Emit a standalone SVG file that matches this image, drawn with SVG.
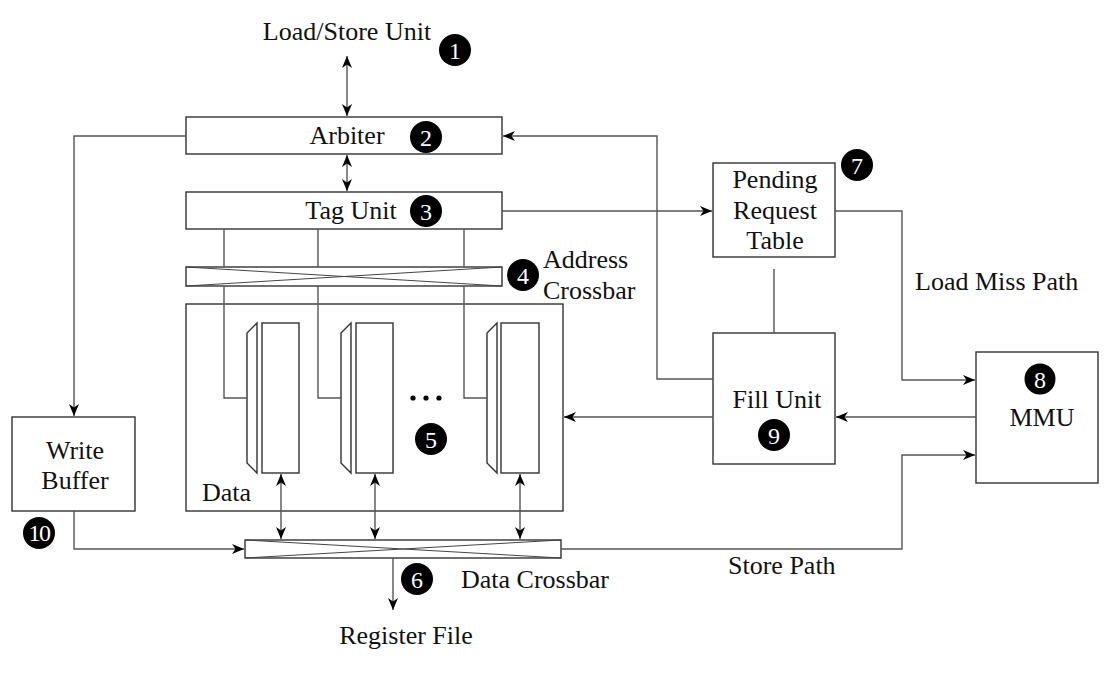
<svg xmlns="http://www.w3.org/2000/svg" width="1113" height="675" viewBox="0 0 1113 675">
<style>
.box{fill:#fff;stroke:#333;stroke-width:1.4}
.frame{fill:none;stroke:#333;stroke-width:1.4}
.ln{fill:none;stroke:#555;stroke-width:1.4}
.thin{fill:none;stroke:#444;stroke-width:1}
.t{font-family:"Liberation Serif","DejaVu Serif",serif;font-size:26px;fill:#111}
.bd{fill:#000}
.bn{font-family:"Liberation Serif","DejaVu Serif",serif;font-size:24px;fill:#fff;text-anchor:middle}
</style>
<defs>
<marker id="ah" viewBox="-13 -6 14 12" refX="0" refY="0" markerWidth="14" markerHeight="12" markerUnits="userSpaceOnUse" orient="auto-start-reverse">
<path d="M0,0 L-12,-5 L-8.5,0 L-12,5 Z" fill="#000"/>
</marker>
</defs>

<g id="loadstore">
<text class="t" x="347" y="40" text-anchor="middle">Load/Store Unit</text>
<circle class="bd" cx="455" cy="50" r="16"/><text class="bn" x="455" y="58.5">1</text>
</g>

<g id="arbiter">
<rect class="box" x="186" y="117" width="316" height="37"/>
<text class="t" x="347" y="144" text-anchor="middle">Arbiter</text>
<circle class="bd" cx="426" cy="137" r="16"/><text class="bn" x="426" y="145.5">2</text>
</g>

<g id="tagunit">
<rect class="box" x="186" y="192" width="316" height="37"/>
<text class="t" x="351" y="219" text-anchor="middle">Tag Unit</text>
<circle class="bd" cx="426" cy="211" r="16"/><text class="bn" x="426" y="219.5">3</text>
</g>

<g id="addrxbar">
<rect class="box" x="186" y="267" width="316" height="19"/>
<path class="thin" d="M186,267 L502,286 M186,286 L502,267"/>
<circle class="bd" cx="523" cy="275" r="16"/><text class="bn" x="523" y="283.5">4</text>
<text class="t" x="543" y="268">Address</text>
<text class="t" x="543" y="299">Crossbar</text>
</g>

<g id="data">
<rect class="frame" x="186" y="304" width="377" height="207"/>
<polygon class="box" points="257,323 247,333 247,463 257,473"/>
<rect class="box" x="262" y="323" width="37" height="150"/>
<polygon class="box" points="351,323 341,333 341,463 351,473"/>
<rect class="box" x="356" y="323" width="37" height="150"/>
<polygon class="box" points="497,323 487,333 487,463 497,473"/>
<rect class="box" x="501" y="323" width="38" height="150"/>
<circle cx="413" cy="398" r="2.6" fill="#000"/>
<circle cx="426" cy="398" r="2.6" fill="#000"/>
<circle cx="439" cy="398" r="2.6" fill="#000"/>
<circle class="bd" cx="431" cy="439" r="16"/><text class="bn" x="431" y="447.5">5</text>
<text class="t" x="202" y="501">Data</text>
</g>

<g id="writebuffer">
<rect class="box" x="12" y="417" width="123" height="94"/>
<text class="t" x="75" y="459" text-anchor="middle">Write</text>
<text class="t" x="75" y="489" text-anchor="middle">Buffer</text>
<circle class="bd" cx="39" cy="533" r="16"/><text class="bn" x="39" y="541" font-size="21" letter-spacing="-1.5">10</text>
</g>

<g id="dataxbar">
<rect class="box" x="245" y="540" width="316" height="18"/>
<path class="thin" d="M245,540 L561,558 M245,558 L561,540"/>
<circle class="bd" cx="417" cy="579" r="16"/><text class="bn" x="417" y="587.5">6</text>
<text class="t" x="461" y="588">Data Crossbar</text>
<text class="t" x="406" y="644" text-anchor="middle">Register File</text>
<text class="t" x="728" y="574">Store Path</text>
</g>

<g id="prt">
<rect class="box" x="713" y="163" width="122" height="94"/>
<text class="t" x="775" y="188" text-anchor="middle">Pending</text>
<text class="t" x="775" y="219" text-anchor="middle">Request</text>
<text class="t" x="775" y="249" text-anchor="middle">Table</text>
<circle class="bd" cx="857" cy="165" r="16"/><text class="bn" x="857" y="173.5">7</text>
<text class="t" x="915" y="290">Load Miss Path</text>
</g>

<g id="fillunit">
<rect class="box" x="713" y="333" width="122" height="131"/>
<text class="t" x="777" y="408" text-anchor="middle">Fill Unit</text>
<circle class="bd" cx="774" cy="435" r="16"/><text class="bn" x="774" y="443.5">9</text>
</g>

<g id="mmu">
<rect class="box" x="976" y="352" width="122" height="131"/>
<circle class="bd" cx="1040" cy="379" r="15.5"/><text class="bn" x="1040" y="387.5">8</text>
<text class="t" x="1042" y="426" text-anchor="middle">MMU</text>
</g>

<g id="connectors">
<line class="ln" x1="347" y1="56" x2="347" y2="116" marker-start="url(#ah)" marker-end="url(#ah)"/>
<line class="ln" x1="347" y1="155" x2="347" y2="191" marker-start="url(#ah)" marker-end="url(#ah)"/>
<polyline class="ln" points="186,136 74,136 74,416" marker-end="url(#ah)"/>
<polyline class="ln" points="224,229 224,267"/>
<polyline class="ln" points="318,229 318,267"/>
<polyline class="ln" points="464,229 464,267"/>
<polyline class="ln" points="224,286 224,398 247,398"/>
<polyline class="ln" points="318,286 318,398 341,398"/>
<polyline class="ln" points="464,286 464,398 487,398"/>
<line class="ln" x1="281" y1="474" x2="281" y2="539" marker-start="url(#ah)" marker-end="url(#ah)"/>
<line class="ln" x1="375" y1="474" x2="375" y2="539" marker-start="url(#ah)" marker-end="url(#ah)"/>
<line class="ln" x1="520" y1="474" x2="520" y2="539" marker-start="url(#ah)" marker-end="url(#ah)"/>
<polyline class="ln" points="74,511 74,549 244,549" marker-end="url(#ah)"/>
<line class="ln" x1="393" y1="558" x2="393" y2="610" marker-end="url(#ah)"/>
<polyline class="ln" points="561,549 902,549 902,455 975,455" marker-end="url(#ah)"/>
<line class="ln" x1="502" y1="211" x2="712" y2="211" marker-end="url(#ah)"/>
<polyline class="ln" points="835,211 902,211 902,380 975,380" marker-end="url(#ah)"/>
<line class="ln" x1="774" y1="269" x2="774" y2="333"/>
<polyline class="ln" points="713,379 657,379 657,136 503,136" marker-end="url(#ah)"/>
<line class="ln" x1="713" y1="417" x2="564" y2="417" marker-end="url(#ah)"/>
<line class="ln" x1="976" y1="417" x2="836" y2="417" marker-end="url(#ah)"/>
</g>
</svg>
